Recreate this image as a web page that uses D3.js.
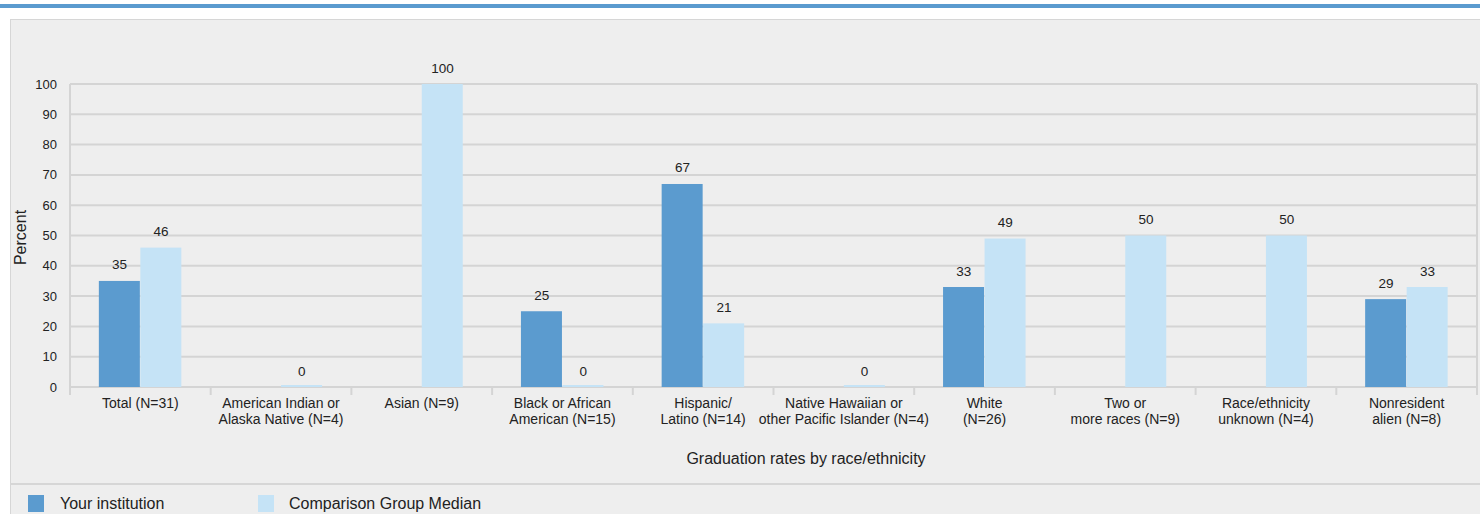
<!DOCTYPE html>
<html>
<head>
<meta charset="utf-8">
<script src="https://cdn.jsdelivr.net/npm/d3@7"></script>
<style>
  body { margin: 0; background: #fff; }
  svg { display: block; font-family: "Liberation Sans", Arial, sans-serif; }
</style>
</head>
<body>
<div id="chart"></div>
<script>
// categories (two-line labels)
var categories = [
    ['Total (N=31)'],
    ['American Indian or', 'Alaska Native (N=4)'],
    ['Asian (N=9)'],
    ['Black or African', 'American (N=15)'],
    ['Hispanic/', 'Latino (N=14)'],
    ['Native Hawaiian or', 'other Pacific Islander (N=4)'],
    ['White', '(N=26)'],
    ['Two or', 'more races (N=9)'],
    ['Race/ethnicity', 'unknown (N=4)'],
    ['Nonresident', 'alien (N=8)']
];
// null = no bar / no label
var yourInstitution = [35, null, null, 25, 67, null, 33, null, null, 29];
var comparisonMedian = [46, 0, 100, 0, 21, 0, 49, 50, 50, 33];
var seriesNames = ['Your institution', 'Comparison Group Median'];
var yTicks = [0, 10, 20, 30, 40, 50, 60, 70, 80, 90, 100];

var colors = ['#5b9bcf', '#c5e3f6'];

var svgWidth = 1480;
var svgHeight = 514;

var margin = { top: 84, right: 3, bottom: 127, left: 70 };
var chartWidth = svgWidth - margin.left - margin.right;
var chartHeight = svgHeight - margin.top - margin.bottom;

var svg = d3.select('#chart')
    .append('svg')
    .attr('width', svgWidth)
    .attr('height', svgHeight);

// top blue strip
svg.append('rect')
    .attr('x', 0).attr('y', 4)
    .attr('width', svgWidth).attr('height', 4)
    .attr('fill', '#5b9bcf');

// gray panel
svg.append('rect')
    .attr('x', 10.5).attr('y', 19.5)
    .attr('width', svgWidth).attr('height', svgHeight)
    .attr('fill', '#eeeeee')
    .attr('stroke', '#d6d6d6');

// legend separator
svg.append('line')
    .attr('x1', 10).attr('x2', svgWidth)
    .attr('y1', 484).attr('y2', 484)
    .attr('stroke', '#d6d6d6').attr('stroke-width', 2);

var chartGroup = svg.append('g')
    .attr('transform', `translate(${margin.left}, ${margin.top})`);

var xScale = d3.scaleBand()
    .domain(d3.range(categories.length))
    .range([0, chartWidth]);

var xInner = d3.scaleBand()
    .domain([0, 1])
    .range([0, 83])
    .padding(0);

var yScale = d3.scaleLinear()
    .domain([0, 100])
    .range([chartHeight, 0]);

// gridlines
chartGroup.selectAll('.grid')
    .data(yTicks)
    .enter()
    .append('line')
    .attr('x1', 0).attr('x2', chartWidth)
    .attr('y1', d => yScale(d)).attr('y2', d => yScale(d))
    .attr('stroke', '#d4d4d4').attr('stroke-width', 2);

// left and right frame
chartGroup.append('line')
    .attr('x1', 0).attr('x2', 0)
    .attr('y1', 0).attr('y2', chartHeight + 8)
    .attr('stroke', '#d4d4d4').attr('stroke-width', 2);
chartGroup.append('line')
    .attr('x1', chartWidth).attr('x2', chartWidth)
    .attr('y1', 0).attr('y2', chartHeight + 8)
    .attr('stroke', '#d4d4d4').attr('stroke-width', 2);

// category separators
chartGroup.selectAll('.sep')
    .data(d3.range(1, categories.length))
    .enter()
    .append('line')
    .attr('x1', d => xScale(d)).attr('x2', d => xScale(d))
    .attr('y1', chartHeight).attr('y2', chartHeight + 8)
    .attr('stroke', '#d4d4d4').attr('stroke-width', 2);

// y axis labels
chartGroup.selectAll('.ytick')
    .data(yTicks)
    .enter()
    .append('text')
    .attr('x', -13)
    .attr('y', d => yScale(d) + 4.5)
    .attr('text-anchor', 'end')
    .attr('font-size', 13)
    .attr('fill', '#222')
    .text(d => d);

chartGroup.append('text')
    .attr('transform', `translate(-44, ${yScale(50) + 2}) rotate(-90)`)
    .attr('text-anchor', 'middle')
    .attr('font-size', 16)
    .attr('fill', '#222')
    .text('Percent');

// bars
var series = [yourInstitution, comparisonMedian];
series.forEach((vals, s) => {
    var groupOffset = (xScale.bandwidth() - 83) / 2;
    var items = vals.map((v, i) => ({ v: v, i: i })).filter(d => d.v !== null);
    chartGroup.selectAll('.bar' + s)
        .data(items)
        .enter()
        .append('rect')
        .attr('x', d => xScale(d.i) + groupOffset + xInner(s))
        .attr('width', xInner.bandwidth() - 0.5)
        .attr('y', d => Math.min(yScale(d.v), chartHeight - 2))
        .attr('height', d => Math.max(chartHeight - yScale(d.v), 2))
        .attr('fill', colors[s]);

    chartGroup.selectAll('.lbl' + s)
        .data(items)
        .enter()
        .append('text')
        .attr('x', d => xScale(d.i) + groupOffset + xInner(s) + xInner.bandwidth() / 2)
        .attr('y', d => yScale(d.v) - 11.5)
        .attr('text-anchor', 'middle')
        .attr('font-size', 13.5)
        .attr('fill', '#222')
        .text(d => d.v);
});

// category labels
var catLabels = chartGroup.selectAll('.cat')
    .data(categories)
    .enter()
    .append('text')
    .attr('text-anchor', 'middle')
    .attr('font-size', 14)
    .attr('fill', '#222');
catLabels.each(function (lines, i) {
    d3.select(this).selectAll('tspan')
        .data(lines)
        .enter()
        .append('tspan')
        .attr('x', xScale(i) + xScale.bandwidth() / 2)
        .attr('y', (d, k) => chartHeight + 21 + k * 16)
        .text(d => d);
});

chartGroup.append('text')
    .attr('x', 736)
    .attr('y', chartHeight + 77)
    .attr('text-anchor', 'middle')
    .attr('font-size', 16)
    .attr('fill', '#222')
    .text('Graduation rates by race/ethnicity');

// legend
var legend = svg.append('g');
var legendX = [28, 258];
var legendTextX = [60, 289];
seriesNames.forEach((name, s) => {
    legend.append('rect')
        .attr('x', legendX[s]).attr('y', 495)
        .attr('width', 16).attr('height', 17)
        .attr('fill', colors[s]);
    legend.append('text')
        .attr('x', legendTextX[s]).attr('y', 509)
        .attr('font-size', 16)
        .attr('fill', '#222')
        .text(name);
});
</script>
</body>
</html>
